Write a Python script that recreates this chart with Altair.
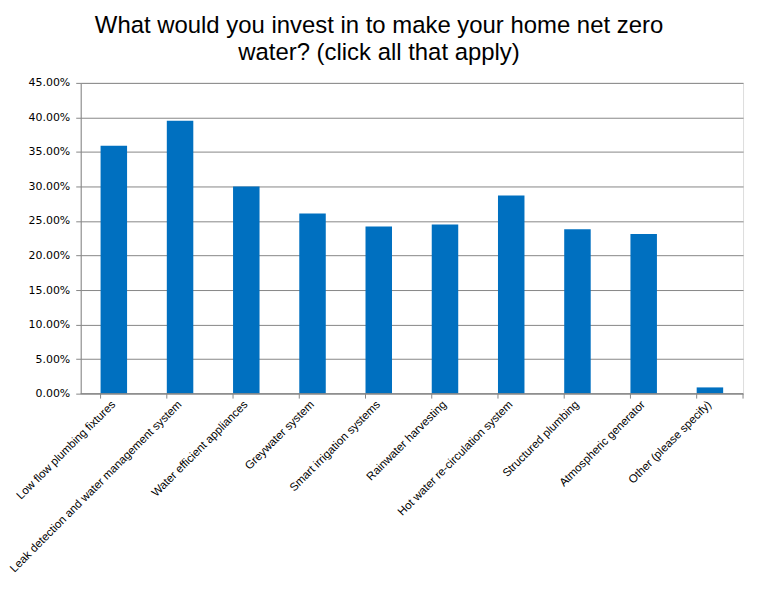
import altair as alt
import pandas as pd

categories = [
    "Low flow plumbing fixtures",
    "Leak detection and water management system",
    "Water efficient appliances",
    "Greywater system",
    "Smart irrigation systems",
    "Rainwater harvesting",
    "Hot water re-circulation system",
    "Structured plumbing",
    "Atmospheric generator",
    "Other (please specify)",
]
values = [0.359, 0.395, 0.300, 0.261, 0.242, 0.245, 0.287, 0.238, 0.231, 0.009]
y_ticks = [0, 0.05, 0.10, 0.15, 0.20, 0.25, 0.30, 0.35, 0.40, 0.45]

df = pd.DataFrame({"cat": categories, "val": values})

W, H = 665, 312
GRID = "#868686"

xscale = alt.Scale(domain=categories, paddingInner=0.6, paddingOuter=0.3)

bars = alt.Chart(df).mark_bar(color="#0070C0").encode(
    x=alt.X("cat:N", sort=categories, scale=xscale,
            axis=alt.Axis(title=None, labelAngle=-45, labelAlign="right",
                          labelBaseline="middle", labelFont="Liberation Sans",
                          labelFontSize=11.5, labelColor="#000000", labelPadding=9,
                          ticks=False, domain=False, labelLimit=400)),
    y=alt.Y("val:Q", scale=alt.Scale(domain=[0, 0.45], nice=False),
            axis=alt.Axis(title=None, values=y_ticks, format=".2%",
                          labelFont="DejaVu Sans", labelFontSize=11,
                          labelColor="#000000", gridColor=GRID, gridOpacity=1,
                          domainColor=GRID, tickColor=GRID, tickSize=5,
                          labelPadding=6)),
)

ticks = alt.Chart(df).mark_rule(color=GRID, strokeWidth=1, clip=False).encode(
    x=alt.X("cat:N", sort=categories, scale=xscale, bandPosition=0),
    y=alt.value(H),
    y2=alt.value(H + 5),
)
end_tick = alt.Chart(df.head(1)).mark_rule(color=GRID, strokeWidth=1, clip=False).encode(
    x=alt.value(W), y=alt.value(H), y2=alt.value(H + 5)
)
baseline = alt.Chart(df.head(1)).mark_rule(color=GRID, strokeWidth=1).encode(
    x=alt.value(0), x2=alt.value(W), y=alt.value(H)
)

chart = alt.layer(bars, baseline, ticks, end_tick).properties(
    width=W, height=H,
    title=alt.TitleParams(
        ["What would you invest in to make your home net zero",
         "water? (click all that apply)"],
        font="Liberation Sans", fontSize=24, fontWeight="normal",
        color="#000000", anchor="middle", dx=-33, offset=12, lineHeight=27,
    ),
    padding={"left": 73, "top": 74, "right": 10, "bottom": 200},
    autosize=alt.AutoSizeParams(type="none"),
).configure_view(stroke=None).configure(background="white")

chart.save("out.html", embed_options={"renderer": "svg", "actions": False})
